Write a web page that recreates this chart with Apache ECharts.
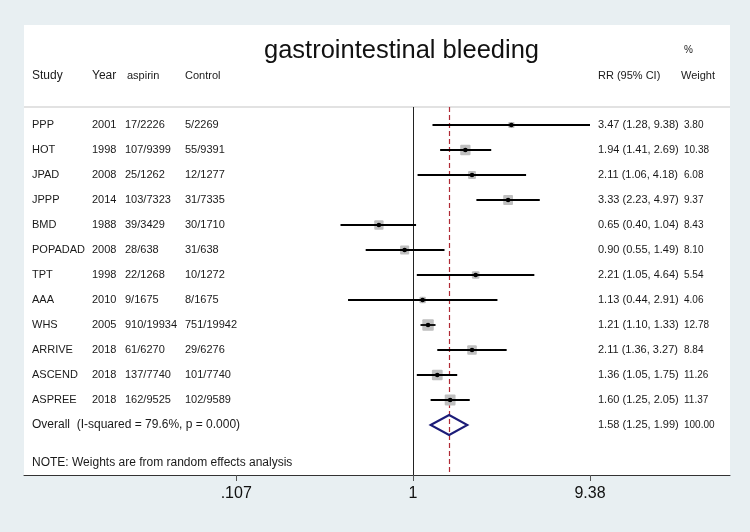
<!DOCTYPE html>
<html><head><meta charset="utf-8">
<script src="https://cdn.jsdelivr.net/npm/echarts@6/dist/echarts.min.js"></script>
<style>html,body{margin:0;padding:0;background:#e8eff2}#c{width:750px;height:532px}</style>
</head><body><div id="c"></div>
<script>
const studies = ['PPP','HOT','JPAD','JPPP','BMD','POPADAD','TPT','AAA','WHS','ARRIVE','ASCEND','ASPREE'];
const years = [2001,1998,2008,2014,1988,2008,1998,2010,2005,2018,2018,2018];
const aspirinEvents = ['17/2226','107/9399','25/1262','103/7323','39/3429','28/638','22/1268','9/1675','910/19934','61/6270','137/7740','162/9525'];
const controlEvents = ['5/2269','55/9391','12/1277','31/7335','30/1710','31/638','10/1272','8/1675','751/19942','29/6276','101/7740','102/9589'];
const rr = [3.47,1.94,2.11,3.33,0.65,0.90,2.21,1.13,1.21,2.11,1.36,1.60];
const ciLow = [1.28,1.41,1.06,2.23,0.40,0.55,1.05,0.44,1.10,1.36,1.05,1.25];
const ciHigh = [9.38,2.69,4.18,4.97,1.04,1.49,4.64,2.91,1.33,3.27,1.75,2.05];
const weights = [3.80,10.38,6.08,9.37,8.43,8.10,5.54,4.06,12.78,8.84,11.26,11.37];
const overall = [1.58,1.25,1.99];
const overallWeight = 100.00;
const overallLabel = 'Overall  (I-squared = 79.6%, p = 0.000)';
const noteText = 'NOTE: Weights are from random effects analysis';
const headers = ['Study','Year','aspirin','Control','RR (95% CI)','Weight'];
const titleText = 'gastrointestinal bleeding';
const tickValues = [0.107, 1, 9.38];
const tickLabels = ['.107','1','9.38'];

const L = Math.log10;
const FONT = 'Liberation Sans, Arial, sans-serif';
const X_MIN = -2.136, X_MAX = 1.741;
const TOP_ROW = -0.72, AXIS_ROW = 14, OVERALL_ROW = 12, NOTE_ROW = 13.5, HEADER_ROW = -1.97, PCT_ROW = -3.0;
const COLS = [32, 92, 125, 185, 598, 684];
const fmt = v => v.toFixed(2);
const crisp = v => Math.round(v) + 0.5;

function txt(x, y, s, size, color) {
  return {type:'text', x:x, y:y, style:{text:s, fill:color||'#1a1a1a', font: size+'px '+FONT, verticalAlign:'middle', align:'left'}};
}

const chart = echarts.init(document.getElementById('c'));
const studyData = rr.map((v,i)=>[i, L(v), L(ciLow[i]), L(ciHigh[i]), weights[i]]);
const tableRows = studies.map((s,i)=>[i]);
const refX = L(overall[0]);

chart.setOption({
  backgroundColor:'#e8eff2',
  animation:false,
  title:{text:titleText, left:259, top:33, textStyle:{fontFamily:FONT, fontSize:25.5, fontWeight:'normal', color:'#111'}},
  grid:{left:24, right:20, top:25, bottom:57, show:true, backgroundColor:'#fff', borderWidth:0},
  xAxis:{type:'value', min:X_MIN, max:X_MAX, splitLine:{show:false},
    axisLine:{show:true, onZero:false, lineStyle:{color:'#333', width:1}},
    axisTick:{show:true, length:6, customValues: tickValues.map(L), lineStyle:{color:'#555'}},
    axisLabel:{customValues: tickValues.map(L), margin:11, fontSize:16, fontFamily:FONT, color:'#111',
      formatter: v => { let k=0, d=1e9; tickValues.forEach((t,i)=>{const dd=Math.abs(L(t)-v); if(dd<d){d=dd;k=i;}}); return tickLabels[k]; }}},
  yAxis:{type:'value', min:-4, max:14, inverse:true, show:false},
  series:[
    {type:'custom', name:'refs', data:[[0, TOP_ROW, AXIS_ROW]], encode:{x:0, y:[1,2]}, clip:false, z:1, silent:true,
      renderItem:(params, api)=>{
        const a = api.coord([X_MIN, TOP_ROW]);
        const b = api.coord([X_MAX, TOP_ROW]);
        const z0 = api.coord([0, TOP_ROW]);
        const z1 = api.coord([0, AXIS_ROW]);
        const r0 = api.coord([refX, TOP_ROW]);
        const r1 = api.coord([refX, AXIS_ROW]);
        return {type:'group', children:[
          {type:'line', shape:{x1:a[0], y1:a[1], x2:b[0], y2:b[1]}, style:{stroke:'#d9d9d9', lineWidth:1.5}},
          {type:'line', shape:{x1:crisp(z0[0]), y1:z0[1], x2:crisp(z1[0]), y2:z1[1]}, style:{stroke:'#222', lineWidth:1}},
          {type:'line', z2:5, shape:{x1:crisp(r0[0]), y1:r0[1], x2:crisp(r1[0]), y2:r1[1]}, style:{stroke:'#b02a35', lineWidth:1.2, lineDash:[5,3]}}
        ]};
      }
    },
    {type:'custom', name:'studies', data: studyData, encode:{x:[1,2,3], y:0}, clip:false, z:2,
      renderItem:(params, api)=>{
        const row = api.value(0);
        const p = api.coord([api.value(1), row]);
        const lo = api.coord([api.value(2), row]);
        const hi = api.coord([api.value(3), row]);
        const side = 3.2*Math.sqrt(api.value(4));
        return {type:'group', children:[
          {type:'rect', shape:{x:p[0]-side/2, y:p[1]-side/2, width:side, height:side, r:1}, style:{fill:'#bfbfbf'}},
          {type:'line', shape:{x1:lo[0], y1:p[1], x2:hi[0], y2:p[1]}, style:{stroke:'#000', lineWidth:1.8}},
          {type:'circle', shape:{cx:p[0], cy:p[1], r:2.3}, style:{fill:'#000'}}
        ]};
      }
    },
    {type:'custom', name:'overall', data:[[OVERALL_ROW, L(overall[0]), L(overall[1]), L(overall[2])]], encode:{x:[1,2,3], y:0}, clip:false, z:3,
      renderItem:(params, api)=>{
        const row = api.value(0);
        const c = api.coord([api.value(1), row]);
        const top = api.coord([api.value(1), row-0.4]);
        const bot = api.coord([api.value(1), row+0.4]);
        const lo = api.coord([api.value(2), row]);
        const hi = api.coord([api.value(3), row]);
        return {type:'polygon', shape:{points:[[lo[0],c[1]],[top[0],top[1]],[hi[0],c[1]],[bot[0],bot[1]]]},
          style:{fill:'none', stroke:'#1c1c78', lineWidth:2}};
      }
    },
    {type:'custom', name:'table', data: tableRows, encode:{y:0}, clip:false,
      renderItem:(params, api)=>{
        const i = params.dataIndex;
        const y = api.coord([0, api.value(0)])[1];
        const ch = [
          txt(COLS[0], y, studies[i], 11),
          txt(COLS[1], y, String(years[i]), 11),
          txt(COLS[2], y, aspirinEvents[i], 11),
          txt(COLS[3], y, controlEvents[i], 11),
          txt(COLS[4], y, fmt(rr[i])+' ('+fmt(ciLow[i])+', '+fmt(ciHigh[i])+')', 11),
          txt(COLS[5], y, fmt(weights[i]), 10)
        ];
        if (i === 0) {
          const yh = api.coord([0, HEADER_ROW])[1];
          const yp = api.coord([0, PCT_ROW])[1];
          const yo = api.coord([0, OVERALL_ROW])[1];
          const yn = api.coord([0, NOTE_ROW])[1];
          ch.push(txt(COLS[0], yh, headers[0], 12));
          ch.push(txt(COLS[1], yh, headers[1], 12));
          ch.push(txt(COLS[2]+2, yh, headers[2], 11));
          ch.push(txt(COLS[3], yh, headers[3], 11));
          ch.push(txt(COLS[4], yh, headers[4], 11));
          ch.push(txt(COLS[5]-3, yh, headers[5], 11));
          ch.push(txt(COLS[5], yp, '%', 10));
          ch.push(txt(COLS[0], yo, overallLabel, 12));
          ch.push(txt(COLS[4], yo, fmt(overall[0])+' ('+fmt(overall[1])+', '+fmt(overall[2])+')', 11));
          ch.push(txt(COLS[5], yo, fmt(overallWeight), 10));
          ch.push(txt(COLS[0], yn, noteText, 12));
        }
        return {type:'group', children:ch};
      }
    }
  ]
});
</script></body></html>
